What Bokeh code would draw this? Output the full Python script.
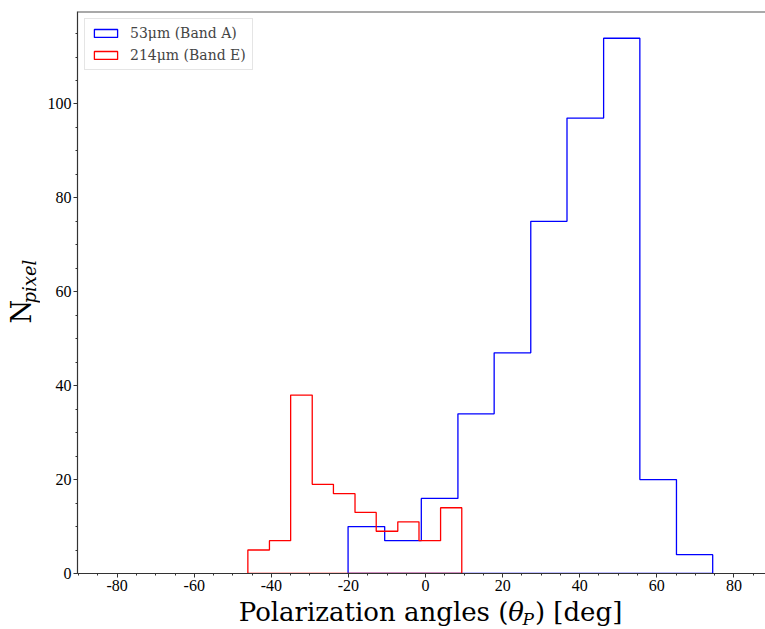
from math import pi
from bokeh.plotting import figure
from bokeh.layouts import row, column
from bokeh.models import Range1d, FixedTicker, Span
from bokeh.core.properties import value
from bokeh.embed import file_html
from bokeh.resources import INLINE

# ---- data ----
blue_edges = [-20.1, -10.6, -1.1, 8.4, 17.8, 27.3, 36.7, 46.2, 55.6, 65.1, 74.5]
blue_counts = [10, 7, 16, 34, 47, 75, 97, 114, 20, 4]
red_edges = [-46.1, -40.5, -35.0, -29.4, -23.9, -18.3, -12.8, -7.2, -1.7, 3.9, 9.4]
red_counts = [5, 7, 38, 19, 17, 13, 9, 11, 7, 14]
series_labels = ["53μm (Band A)", "214μm (Band E)"]
x_ticks = [-80, -60, -40, -20, 0, 20, 40, 60, 80]
x_tick_labels = ["-80", "-60", "-40", "-20", "0", "20", "40", "60", "80"]
y_ticks = [0, 20, 40, 60, 80, 100]
y_tick_labels = ["0", "20", "40", "60", "80", "100"]
x_limits = (-90.3, 88.2)
y_limits = (0, 119.7)


def step_xy(edges, counts):
    xs = [edges[0]]
    ys = [0]
    for i, c in enumerate(counts):
        xs += [edges[i], edges[i + 1]]
        ys += [c, c]
    xs.append(edges[-1])
    ys.append(0)
    return xs, ys


SERIF = "DejaVu Serif"

# ---------------- main plot ----------------
p = figure(width=725, height=597, output_backend="svg", toolbar_location=None,
           x_range=Range1d(*x_limits), y_range=Range1d(*y_limits),
           min_border_left=37, min_border_right=0, min_border_top=11,
           min_border_bottom=24)
p.grid.visible = False
p.outline_line_color = None

bx, by = step_xy(blue_edges, blue_counts)
rx, ry = step_xy(red_edges, red_counts)
p.patch(bx, by, fill_color=None, line_color="blue", line_width=1.3,
        legend_label=series_labels[0])
p.patch(rx, ry, fill_color=None, line_color="red", line_width=1.3,
        legend_label=series_labels[1])

lg = p.legend[0]
lg.location = "top_left"
lg.margin = 7
lg.padding = 6
lg.spacing = 6
lg.glyph_width = 29
lg.glyph_height = 10
lg.label_height = 16
lg.label_standoff = 10
lg.label_text_font = SERIF
lg.label_text_font_size = "14px"
lg.border_line_color = "#cccccc"
lg.border_line_width = 1
lg.background_fill_alpha = 0.8

p.xaxis.ticker = FixedTicker(ticks=x_ticks, minor_ticks=list(range(-90, 90, 5)))
p.xaxis.major_label_overrides = dict(zip(x_ticks, x_tick_labels))
p.yaxis.ticker = FixedTicker(ticks=y_ticks, minor_ticks=list(range(0, 120, 5)))
p.yaxis.major_label_overrides = dict(zip(y_ticks, y_tick_labels))

for ax in (p.xaxis[0], p.yaxis[0]):
    ax.major_label_text_font = "Liberation Serif"
    ax.major_label_text_font_size = "16px"
    ax.major_label_text_color = "black"
    ax.major_tick_in = 0
    ax.major_tick_out = 4
    ax.minor_tick_in = 0
    ax.minor_tick_out = 2
    ax.axis_line_color = "#333333"
    ax.axis_line_width = 1.2
    ax.major_tick_line_color = "#333333"
    ax.minor_tick_line_color = "#333333"
    ax.major_label_standoff = 2
    ax.axis_label = None

# top spine
p.add_layout(Span(location=y_limits[1], dimension="width",
                  line_color="#555555", line_width=2))

# ---------------- x-axis label strip ----------------
xl = figure(width=725, height=32, output_backend="svg", toolbar_location=None,
            x_range=Range1d(0, 725), y_range=Range1d(0, 32),
            x_axis_type=None, y_axis_type=None, min_border=0)
xl.grid.visible = False
xl.outline_line_color = None
xl.text(x=[454], y=[17.3], text=["Polarization angles ("], text_align="right",
        text_baseline="middle", text_font=value(SERIF),
        text_font_size="26px", text_color="black")
xl.text(x=[454], y=[17.3], text=["θ"], text_align="left",
        text_baseline="middle", text_font=value(SERIF),
        text_font_style="italic", text_font_size="26px", text_color="black")
xl.text(x=[469], y=[10.5], text=["P"], text_align="left",
        text_baseline="middle", text_font=value(SERIF),
        text_font_style="italic", text_font_size="17px", text_color="black")
xl.text(x=[482], y=[17.3], text=[") [deg]"], text_align="left",
        text_baseline="middle", text_font=value(SERIF),
        text_font_size="26px", text_color="black")

# ---------------- y-axis label strip ----------------
yl = figure(width=40, height=629, output_backend="svg", toolbar_location=None,
            x_range=Range1d(0, 40), y_range=Range1d(0, 629),
            x_axis_type=None, y_axis_type=None, min_border=0)
yl.grid.visible = False
yl.outline_line_color = None
yl.text(x=[20.7], y=[306], text=["N"], angle=pi / 2, text_align="left",
        text_baseline="middle", text_font=value(SERIF),
        text_font_size="27px", text_color="black")
yl.text(x=[28.8], y=[326], text=["pixel"], angle=pi / 2, text_align="left",
        text_baseline="middle", text_font=value(SERIF),
        text_font_style="italic", text_font_size="18px", text_color="black")

layout = row(yl, column(p, xl, spacing=0), spacing=0)
open("out.html", "w").write(file_html(layout, INLINE))
